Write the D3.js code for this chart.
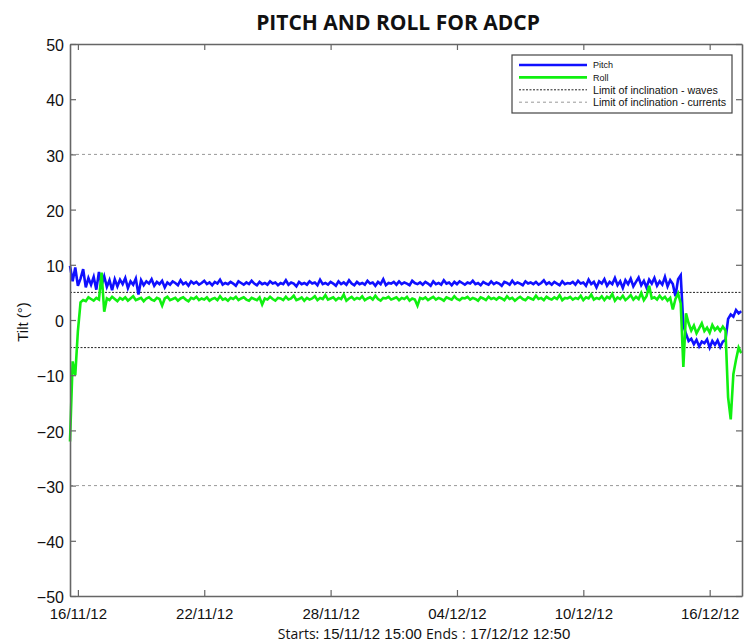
<!DOCTYPE html>
<html>
<head>
<meta charset="utf-8">
<script src="https://cdn.jsdelivr.net/npm/d3@7"></script>
<style>
  body { margin: 0; background: #fff; }
  svg { display: block; }
</style>
</head>
<body>
<div id="chart"></div>
<script>
// samples every 3 hours from 15/11/12 15:00
const startTime = new Date(2012, 10, 15, 15, 0);
const endTime = new Date(2012, 11, 17, 12, 50);
const stepHours = 3;

const pitch = [
  9.8, 7.0, 9.5, 6.2, 7.5, 9.2, 5.9, 7.6, 6.4, 7.8, 5.5, 8.7,
  6.3, 7.9, 6.0, 7.2, 5.4, 7.4, 6.1, 7.3, 6.5, 7.6,
  5.8, 7.0, 6.4, 7.5, 4.6, 7.2, 6.3, 7.0, 6.6, 7.4,
  6.2, 6.9, 6.5, 7.1, 5.9, 6.8, 6.4, 7.0, 6.7, 6.3,
  7.2, 6.5, 6.8, 6.2, 7.0, 6.6, 6.9, 6.4, 6.7, 7.1,
  6.5, 6.8, 6.3, 6.9, 6.6, 7.3, 6.4, 6.7, 6.5, 6.9,
  6.6, 6.2, 7.0, 6.7, 6.4, 6.8, 6.5, 7.1, 6.6, 6.3,
  6.9, 6.5, 6.7, 6.4, 7.0, 6.6, 6.8, 6.3, 6.7, 6.5,
  7.2, 6.4, 6.8, 6.6, 6.1, 6.9, 6.5, 6.7, 6.4, 7.0,
  6.6, 6.8, 6.3, 7.3, 6.5, 6.7, 6.4, 6.9, 6.6, 6.2,
  7.0, 6.5, 6.8, 6.4, 7.2, 6.6, 6.3, 6.9, 6.5, 6.7,
  6.4, 7.1, 6.6, 6.8, 6.2, 6.9, 6.5, 7.4, 6.3, 6.7,
  6.6, 6.9, 6.4, 7.0, 6.5, 6.8, 6.6, 6.3, 7.1, 6.7,
  6.5, 6.8, 6.4, 6.9, 6.6, 6.2, 7.0, 6.5, 6.7, 6.4,
  7.2, 6.6, 6.8, 6.3, 6.9, 6.5, 7.0, 6.7, 6.4, 6.8,
  6.6, 7.1, 6.5, 6.7, 6.3, 6.9, 6.6, 6.4, 7.0, 6.5,
  6.8, 6.6, 6.2, 6.9, 6.7, 6.4, 7.1, 6.5, 6.8, 6.6,
  6.3, 7.0, 6.6, 6.8, 6.5, 6.9, 6.4, 6.7, 7.2, 6.5,
  6.8, 6.4, 6.9, 6.6, 6.3, 7.0, 6.5, 6.7, 6.6, 6.9,
  6.4, 7.1, 6.6, 6.8, 6.2, 7.3, 6.5, 6.9, 5.9, 7.0,
  6.6, 7.4, 6.2, 6.9, 6.5, 7.6, 6.3, 7.0, 5.8, 7.2,
  6.5, 7.5, 6.1, 6.9, 7.7, 6.3, 7.1, 5.9, 7.3, 6.6,
  7.6, 6.2, 7.0, 6.4, 7.8, 6.1, 7.2, 6.5, 4.3, 7.4,
  8.1,
  -1.0, -2.5, -3.8, -3.4, -4.4, -3.6, -4.8, -3.9, -4.2, -3.5,
  -5.0, -3.8, -4.5, -3.7, -4.9, -3.9, -3.6,
  0.2, 1.0, 0.6, 1.8, 1.2, 1.6
];

const roll = [
  -22, -7.5, -10, -2, 3.2, 3.6, 3.4, 4.1, 3.8, 3.5, 4.0, 3.7,
  8.6, 1.5, 3.9, 3.6, 4.2, 3.8, 3.4, 4.0, 3.7, 4.1,
  3.5, 3.9, 4.3, 3.6, 3.8, 4.0, 3.4, 3.9, 4.1, 3.7,
  3.5, 4.0, 3.8, 2.6, 3.9, 4.2, 3.6, 3.8, 4.0, 3.5,
  3.9, 4.1, 3.7, 3.4, 4.0, 3.8, 4.2, 3.6, 3.9, 3.7,
  4.1, 3.5, 3.8, 4.0, 3.6, 4.3, 3.7, 3.9, 3.5, 4.0,
  3.8, 4.2, 3.6, 3.9, 4.1, 3.7, 3.5, 4.0, 3.8, 3.6,
  4.1, 2.8, 3.9, 3.7, 4.2, 3.8, 3.5, 4.0, 3.9, 3.6,
  4.2, 3.7, 3.9, 4.4, 3.6, 3.8, 4.1, 3.5, 4.0, 3.7,
  3.9, 4.3, 3.6, 4.0, 3.8, 4.5, 3.7, 3.9, 4.1, 3.6,
  4.0, 3.8, 4.6, 3.5, 3.9, 4.2, 3.7, 4.0, 3.8, 4.3,
  3.6, 3.9, 4.1, 3.7, 4.4, 3.8, 3.5, 4.0, 3.9, 4.2,
  3.7, 3.9, 4.1, 3.6, 4.0, 3.8, 4.2, 3.5, 3.9, 3.7,
  2.6, 4.0, 3.8, 4.1, 3.6, 3.9, 4.2, 3.7, 4.0, 3.8,
  3.5, 4.1, 3.9, 3.7, 4.3, 3.8, 3.6, 4.0, 3.9, 4.2,
  3.7, 4.0, 3.8, 3.5, 4.1, 3.9, 3.6, 4.2, 3.8, 4.0,
  3.7, 4.1, 3.9, 3.6, 4.3, 3.8, 4.0, 3.5, 3.9, 4.2,
  3.8, 3.6, 4.1, 3.9, 3.7, 4.4, 3.8, 4.0, 3.6, 4.2,
  3.9, 3.7, 4.1, 3.8, 4.5, 3.6, 4.0, 3.9, 4.2, 3.7,
  4.0, 3.8, 4.4, 3.6, 4.1, 3.9, 4.6, 3.7, 4.0, 3.8,
  4.3, 3.6, 4.2, 3.9, 4.7, 3.5, 4.1, 3.8, 4.4, 3.6,
  4.0, 4.5, 3.7, 4.2, 3.8, 4.9, 3.6, 4.3, 6.2, 3.9,
  4.1, 3.7, 4.4, 3.8, 4.2, 3.5, 4.0, 1.9, 3.8, 4.8,
  3.0,
  -8.5, 1.2, -0.6, -1.9, -1.0, -2.4, -1.5, -0.6, -2.0, -1.4,
  -2.3, -0.9, -1.8, -1.3, -2.0, -1.2, -1.9,
  -14, -18, -9.8, -7.2, -5.0, -6.0
];

const yTicks = [-50, -40, -30, -20, -10, 0, 10, 20, 30, 40, 50];
const xTickDates = [
  new Date(2012, 10, 16), new Date(2012, 10, 22), new Date(2012, 10, 28),
  new Date(2012, 11, 4), new Date(2012, 11, 10), new Date(2012, 11, 16)
];
const wavesLimit = [5, -5];
const currentsLimit = [30, -30];
const legendLabels = ['Pitch', 'Roll', 'Limit of inclination - waves', 'Limit of inclination - currents'];

const width = 744, height = 644;
const margin = { top: 44, right: 2, bottom: 48, left: 70 };
const innerW = width - margin.left - margin.right;
const innerH = height - margin.top - margin.bottom;

const svg = d3.select('#chart').append('svg')
  .attr('width', width)
  .attr('height', height);

const x = d3.scaleTime().domain([startTime, endTime]).range([0, innerW]);
const y = d3.scaleLinear().domain([-50, 50]).range([innerH, 0]);

const g = svg.append('g').attr('transform', `translate(${margin.left},${margin.top})`);

const timeOf = i => new Date(startTime.getTime() + i * stepHours * 3600 * 1000);
const fmt = d3.timeFormat('%d/%m/%y');
const axisColor = '#666';

// limit lines
g.selectAll('.cur').data(currentsLimit).enter().append('line')
  .attr('x1', 0).attr('x2', innerW)
  .attr('y1', d => y(d)).attr('y2', d => y(d))
  .attr('stroke', '#999').attr('stroke-width', 1)
  .attr('stroke-dasharray', '3,3');

g.selectAll('.wav').data(wavesLimit).enter().append('line')
  .attr('x1', 0).attr('x2', innerW)
  .attr('y1', d => y(d)).attr('y2', d => y(d))
  .attr('stroke', '#222').attr('stroke-width', 1)
  .attr('stroke-dasharray', '2,1.5');

g.append('clipPath').attr('id', 'clip')
  .append('rect').attr('x', -2).attr('width', innerW + 2).attr('height', innerH);

const line = d3.line()
  .x((d, i) => x(timeOf(i)))
  .y(d => y(d));

g.append('path').datum(pitch)
  .attr('clip-path', 'url(#clip)')
  .attr('fill', 'none').attr('stroke', '#1010ff')
  .attr('stroke-width', 2.6)
  .attr('d', line);

g.append('path').datum(roll)
  .attr('clip-path', 'url(#clip)')
  .attr('fill', 'none').attr('stroke', '#10f010')
  .attr('stroke-width', 2.6)
  .attr('d', line);

// axes with inward ticks on all four sides
const axBottom = g.append('g').attr('transform', `translate(0,${innerH})`)
  .call(d3.axisBottom(x).tickValues(xTickDates).tickFormat(fmt).tickSizeInner(-6).tickSizeOuter(0).tickPadding(12));
const axTop = g.append('g')
  .call(d3.axisTop(x).tickValues(xTickDates).tickFormat('').tickSizeInner(-6).tickSizeOuter(0));
const axLeft = g.append('g')
  .call(d3.axisLeft(y).tickValues(yTicks).tickSizeInner(-6).tickSizeOuter(0).tickPadding(6));
const axRight = g.append('g').attr('transform', `translate(${innerW},0)`)
  .call(d3.axisRight(y).tickValues(yTicks).tickFormat('').tickSizeInner(-6).tickSizeOuter(0));

[axBottom, axTop, axLeft, axRight].forEach(a => {
  a.selectAll('.domain').attr('stroke', axisColor).attr('stroke-width', 1.6);
  a.selectAll('.tick line').attr('stroke', axisColor).attr('stroke-width', 1.2);
});
axBottom.selectAll('text').attr('font-family', 'Liberation Sans, Arial, sans-serif')
  .attr('font-size', 15).attr('fill', '#111');
axLeft.selectAll('text').attr('font-family', 'Liberation Sans, Arial, sans-serif')
  .attr('font-size', 16).attr('fill', '#111').attr('dy', '0.42em');

// title
svg.append('text')
  .attr('x', 398).attr('y', 30)
  .attr('text-anchor', 'middle')
  .attr('font-family', 'Open Sans, sans-serif')
  .attr('font-weight', 'bold').attr('font-size', 21)
  .attr('fill', '#111')
  .text('PITCH AND ROLL FOR ADCP');

// y label
svg.append('text')
  .attr('transform', 'translate(28,322) rotate(-90)')
  .attr('text-anchor', 'middle')
  .attr('font-family', 'Liberation Sans, Arial, sans-serif')
  .attr('font-size', 15).attr('fill', '#111')
  .text('Tilt (°)');

// footer
const foot = svg.append('text')
  .attr('x', 424).attr('y', 639)
  .attr('text-anchor', 'middle')
  .attr('font-family', 'Liberation Sans, Arial, sans-serif')
  .attr('font-size', 15).attr('fill', '#111');
foot.append('tspan').attr('font-family', 'Open Sans, sans-serif').attr('font-size', 14).text('Starts: ');
foot.append('tspan').text('15/11/12 15:00  ');
foot.append('tspan').attr('font-family', 'Open Sans, sans-serif').attr('font-size', 14).text('Ends');
foot.append('tspan').text(' : 17/12/12 12:50');

// legend
const leg = svg.append('g').attr('transform', 'translate(512,55)');
leg.append('rect').attr('width', 220).attr('height', 58)
  .attr('fill', '#fff').attr('stroke', '#444').attr('stroke-width', 1.2);
const legStyles = [
  { stroke: '#1010ff', w: 2.6, dash: null, size: 9 },
  { stroke: '#10f010', w: 2.6, dash: null, size: 9 },
  { stroke: '#222', w: 1, dash: '2,1.5', size: 10.7 },
  { stroke: '#999', w: 1, dash: '3,3', size: 10.7 }
];
legendLabels.forEach((lab, i) => {
  const ly = 10 + i * 12.4;
  const s = legStyles[i];
  leg.append('line').attr('x1', 7).attr('x2', 75).attr('y1', ly).attr('y2', ly)
    .attr('stroke', s.stroke).attr('stroke-width', s.w)
    .attr('stroke-dasharray', s.dash);
  leg.append('text').attr('x', 81).attr('y', ly).attr('dy', '0.35em')
    .attr('font-family', 'Liberation Sans, Arial, sans-serif')
    .attr('font-size', s.size).attr('fill', '#111')
    .text(lab);
});
</script>
</body>
</html>
